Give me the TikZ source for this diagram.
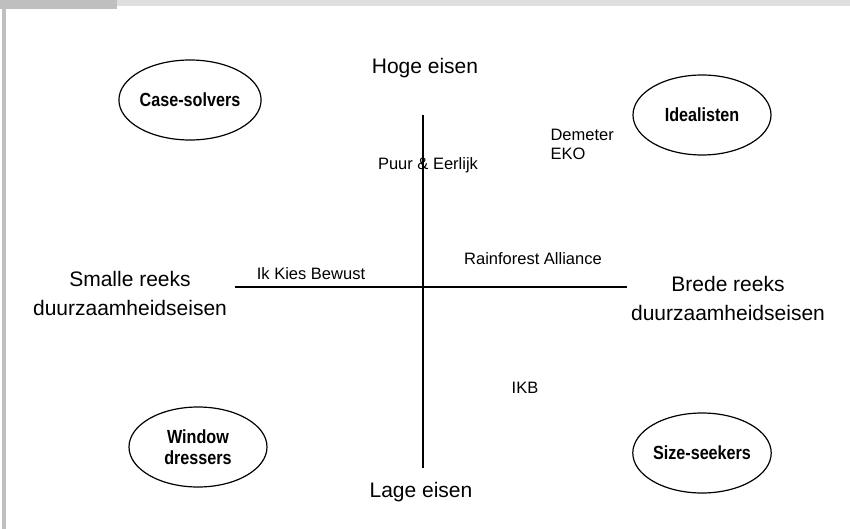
\documentclass[tikz,border=0pt]{standalone}
\usepackage{fontspec}
\setmainfont{Liberation Sans}
\newfontfamily\labelfont[FakeStretch=0.85]{Liberation Sans}
\usetikzlibrary{shapes.geometric}

\begin{document}
\begin{tikzpicture}[x=1pt, y=-1pt,
    every node/.style={font=\fontsize{16.5}{19}\selectfont},
    segment/.style={draw, ellipse, line width=1.2pt, minimum width=138pt, minimum height=80pt,
        inner sep=0pt, align=center, font=\labelfont\bfseries\fontsize{19}{21}\selectfont},
    axislabel/.style={align=center, font=\fontsize{21}{29}\selectfont}]
    \useasboundingbox (0,0) rectangle (850,529);

    % page frame
    \fill[gray!50] (2,0) rectangle (6,529);
    \fill[gray!50] (0,0) rectangle (117,9);
    \fill[gray!25] (117,0) rectangle (850,6);

    % axes
    \coordinate (ytop) at (423,115);
    \coordinate (ybot) at (423,468);
    \coordinate (xleft) at (235,287);
    \coordinate (xright) at (627,287);
    \draw[line width=1.3pt] (ytop) -- (ybot);
    \draw[line width=1.3pt] (xleft) -- (xright);

    % axis labels (base = last line)
    \node[axislabel, anchor=base] (high) at (425,74) {Hoge eisen};
    \node[axislabel, anchor=base] (low) at (421,497) {Lage eisen};
    \node[axislabel, anchor=base] (narrow) at (130,315) {Smalle reeks\\duurzaamheidseisen};
    \node[axislabel, anchor=base] (broad) at (728,320) {Brede reeks\\duurzaamheidseisen};

    % segments
    \node[segment] (cases) at (190,100) {Case-solvers};
    \node[segment] (ideal) at (702,115) {Idealisten};
    \node[segment] (window) at (198,447) {Window\\dressers};
    \node[segment] (size) at (702,453) {Size-seekers};

    % labels
    \node[anchor=base] (puur) at (428,170) {Puur \& Eerlijk};
    \node[anchor=base west, align=left] (demeter) at (547,160) {Demeter\\EKO};
    \node[anchor=base] (ikkies) at (311,279) {Ik Kies Bewust};
    \node[anchor=base] (rain) at (533,264) {Rainforest Alliance};
    \node[anchor=base] (ikb) at (525,393) {IKB};
\end{tikzpicture}
\end{document}
